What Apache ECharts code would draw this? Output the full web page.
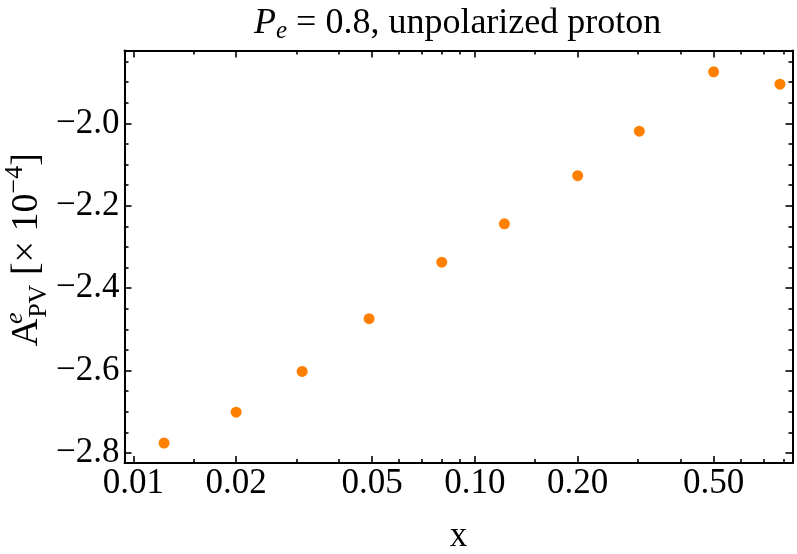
<!DOCTYPE html>
<html>
<head>
<meta charset="utf-8">
<script src="https://cdn.jsdelivr.net/npm/echarts@6/dist/echarts.min.js"></script>
<style>
html, body { margin: 0; padding: 0; background: #fff; }
#main { width: 797px; height: 554px; }
</style>
</head>
<body>
<div id="main"></div>
<script>
var chart = echarts.init(document.getElementById('main'))

// data
var xValues = [0.0123, 0.02, 0.0312, 0.049, 0.08, 0.122, 0.2, 0.303, 0.5, 0.782]
var apvValues = [-2.776, -2.701, -2.602, -2.474, -2.337, -2.244, -2.127, -2.019, -1.875, -1.905]

// ticks
var xMajorTicks = [0.01, 0.02, 0.05, 0.1, 0.2, 0.5]
var xMinorTicks = [0.015, 0.03, 0.04, 0.06, 0.07, 0.08, 0.09, 0.15, 0.3, 0.4, 0.6, 0.7, 0.8]
var yMajorTicks = [-2.8, -2.6, -2.4, -2.2, -2.0]
var yMinorTicks = [-2.75, -2.7, -2.65, -2.55, -2.5, -2.45, -2.35, -2.3, -2.25, -2.15, -2.1, -2.05, -1.95, -1.9, -1.85]

var FONT = 'Liberation Serif'
var X_MIN = 0.00942, X_MAX = 0.851
var Y_MIN = -2.8243, Y_MAX = -1.8233

function xAxisOf(position, ticks, len, withLine, withLabels) {
    var ax = {
        type: 'log',
        logBase: 10,
        position: position,
        min: X_MIN,
        max: X_MAX,
        splitLine: { show: false },
        axisLine: { show: withLine, lineStyle: { color: '#000', width: 2 } },
        axisTick: { show: true, inside: true, length: len, customValues: ticks,
            lineStyle: { color: '#000', width: 1.6 } },
        axisLabel: { show: withLabels }
    }
    if (withLabels) {
        ax.axisLabel = {
            show: true,
            customValues: ticks,
            margin: 3,
            fontFamily: FONT,
            fontSize: 35,
            color: '#000',
            formatter: function (v) { return Number(v).toFixed(2) }
        }
    }
    return ax
}

function yAxisOf(position, ticks, len, withLine, withLabels) {
    var ax = {
        type: 'value',
        position: position,
        min: Y_MIN,
        max: Y_MAX,
        splitLine: { show: false },
        axisLine: { show: withLine, lineStyle: { color: '#000', width: 2 } },
        axisTick: { show: true, inside: true, length: len, customValues: ticks,
            lineStyle: { color: '#000', width: 1.6 } },
        axisLabel: { show: false }
    }
    if (withLabels) {
        ax.axisLabel = {
            show: true,
            customValues: ticks,
            margin: 5,
            fontFamily: FONT,
            fontSize: 35,
            color: '#000',
            formatter: function (v) { return Number(v).toFixed(1).replace('-', '\u2212') }
        }
    }
    return ax
}

var xMain = xAxisOf('bottom', xMajorTicks, 7, true, true)
xMain.name = 'x'
xMain.nameLocation = 'middle'
xMain.nameGap = 56
xMain.nameMoveOverlap = false
xMain.nameTextStyle = { fontFamily: FONT, fontSize: 35, color: '#000' }

var yMain = yAxisOf('left', yMajorTicks, 7, true, true)
yMain.name = '{n|A}{sup|e}{sub|PV}{n| [\u00d7 10}{sup2|\u22124}{n|]}'
yMain.nameLocation = 'middle'
yMain.nameRotate = 90
yMain.nameGap = 72
yMain.nameMoveOverlap = false
yMain.nameTextStyle = {
    fontFamily: FONT, fontSize: 38, color: '#000',
    padding: [0, 0, 0, 14],
    rich: {
        n: { fontFamily: FONT, fontSize: 38, lineHeight: 50, color: '#000' },
        sup: { fontFamily: FONT, fontSize: 26, fontStyle: 'italic', lineHeight: 30, verticalAlign: 'top', width: 1, color: '#000' },
        sub: { fontFamily: FONT, fontSize: 26, lineHeight: 28, verticalAlign: 'bottom', color: '#000' },
        sup2: { fontFamily: FONT, fontSize: 26, lineHeight: 30, verticalAlign: 'top', color: '#000' }
    }
}

var option = {
    backgroundColor: '#fff',
    animation: false,
    title: {
        text: '{i|P}{s|e}{n| = 0.8, unpolarized proton}',
        left: 249,
        top: -1,
        textStyle: {
            fontWeight: 'normal',
            rich: {
                i: { fontFamily: FONT, fontSize: 36, fontStyle: 'italic', fontWeight: 'normal', lineHeight: 40, color: '#000' },
                s: { fontFamily: FONT, fontSize: 25, fontStyle: 'italic', fontWeight: 'normal', lineHeight: 30, verticalAlign: 'bottom', color: '#000' },
                n: { fontFamily: FONT, fontSize: 36, fontWeight: 'normal', lineHeight: 40, color: '#000' }
            }
        }
    },
    grid: { left: 124.5, right: 4.5, top: 50.5, bottom: 91, outerBoundsMode: 'none', containLabel: false },
    xAxis: [
        xMain,
        xAxisOf('bottom', xMinorTicks, 4, false, false),
        xAxisOf('top', xMajorTicks, 7, true, false),
        xAxisOf('top', xMinorTicks, 4, false, false)
    ],
    yAxis: [
        yMain,
        yAxisOf('left', yMinorTicks, 4, false, false),
        yAxisOf('right', yMajorTicks, 7, true, false),
        yAxisOf('right', yMinorTicks, 4, false, false)
    ],
    series: [{
        type: 'scatter',
        xAxisIndex: 0,
        yAxisIndex: 0,
        symbol: 'circle',
        symbolSize: 11,
        itemStyle: { color: '#ff8000', opacity: 1 },
        data: xValues.map(function (x, i) { return [x, apvValues[i]] })
    }]
}

chart.setOption(option)
</script>
</body>
</html>
